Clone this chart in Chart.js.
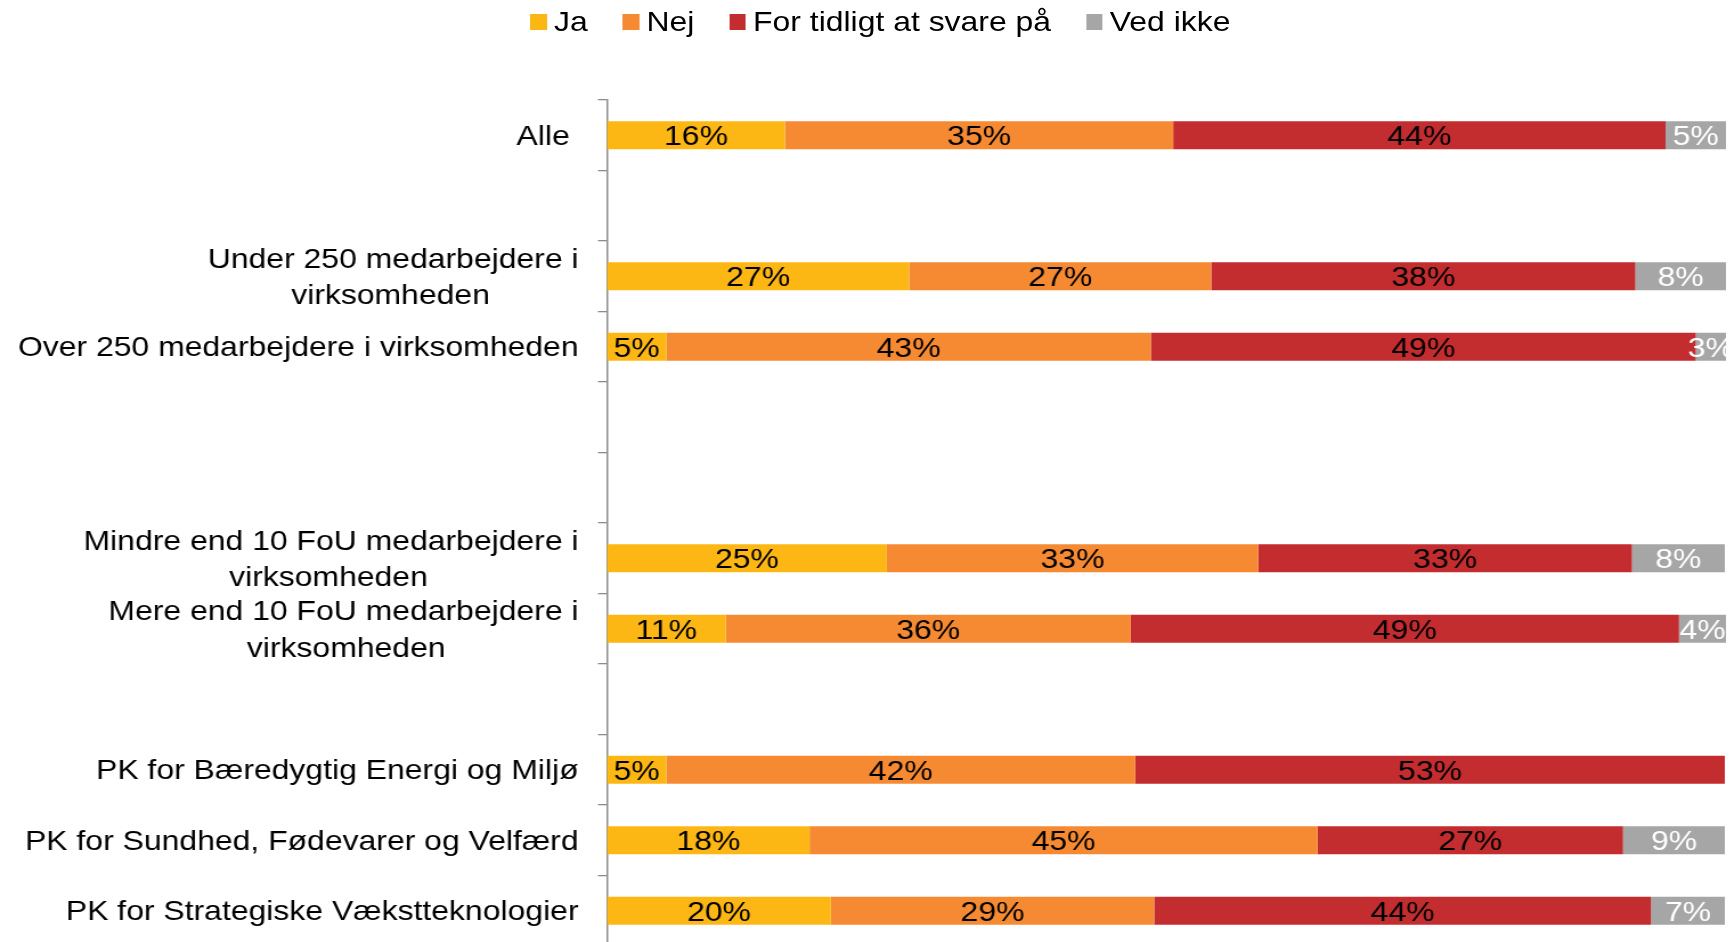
<!DOCTYPE html>
<html>
<head>
<meta charset="utf-8">
<script src="https://cdn.jsdelivr.net/npm/chart.js@4"></script>
<style>
  html, body { margin: 0; padding: 0; overflow: hidden; background: #fff; }
  /* chart is laid out narrower, then widened to fill the page */
  #stretch { position: relative; width: 1522px; height: 946px; transform: scaleX(1.14); transform-origin: 0 0; }
  #surveyChart { position: absolute; left: 0; top: 0; }
  #legend { position: absolute; left: 465px; top: 1px; height: 42px; display: flex; align-items: center;
            font: 28px "Liberation Sans", Arial, sans-serif; color: #000; white-space: nowrap; }
  #legend .item { display: flex; align-items: center; margin-right: 30.5px; }
  #legend .box { width: 14.6px; height: 16.7px; margin-right: 6.4px; }
</style>
</head>
<body>
<div id="stretch">
  <canvas id="surveyChart" width="1522" height="946"></canvas>
  <div id="legend"></div>
</div>

<script>
// empty strings are spacer rows between the groups
var categories = [
  'Alle ',
  '',
  ['Under 250 medarbejdere i', 'virksomheden'],
  'Over 250 medarbejdere i virksomheden',
  '',
  '',
  ['Mindre end 10 FoU medarbejdere i', 'virksomheden'],
  ['Mere end 10 FoU medarbejdere i', 'virksomheden'],
  '',
  'PK for Bæredygtig Energi og Miljø',
  'PK for Sundhed, Fødevarer og Velfærd',
  'PK for Strategiske Vækstteknologier'
];

var seriesNames = ['Ja', 'Nej', 'For tidligt at svare på', 'Ved ikke'];

// percentages
var ja      = [15.9, null, 27.0,  5.3, null, null, 25.0, 10.6, null,  5.3, 18.1, 20.0];
var nej     = [34.7, null, 27.0, 43.3, null, null, 33.2, 36.2, null, 41.9, 45.4, 28.9];
var tidligt = [44.0, null, 37.9, 48.7, null, null, 33.4, 49.0, null, 52.7, 27.3, 44.4];
var vedIkke = [ 5.4, null,  8.1,  2.7, null, null,  8.3,  4.2, null,  0,    9.1,  6.6];

var FONT = '"Liberation Sans", Arial, sans-serif';

// pad the shorter lines of a multi-line label so the lines sit centred on each other
var measureCtx = document.createElement('canvas').getContext('2d');
measureCtx.font = '28px ' + FONT;
function centerLines(label) {
  if (!Array.isArray(label)) return label;
  var widths = label.map(function (l) { return measureCtx.measureText(l).width; });
  var widest = Math.max.apply(null, widths);
  var space = measureCtx.measureText(' ').width;
  return label.map(function (l, i) {
    var n = Math.round((widest - widths[i]) / 2 / space);
    return l + ' '.repeat(n);
  });
}

// percentage text in the middle of each segment
var barLabels = {
  id: 'barLabels',
  afterDatasetsDraw: function (chart) {
    var ctx = chart.ctx;
    ctx.save();
    ctx.font = '28px ' + FONT;
    ctx.textAlign = 'center';
    ctx.textBaseline = 'middle';
    chart.data.datasets.forEach(function (ds, i) {
      var meta = chart.getDatasetMeta(i);
      meta.data.forEach(function (bar, j) {
        var v = ds.data[j];
        if (!v) return;
        var c = bar.getCenterPoint();
        ctx.fillStyle = ds.labelColor;
        ctx.fillText(Math.round(v) + '%', c.x, c.y + 2.5);
      });
    });
    ctx.restore();
  }
};

var chart = new Chart(document.getElementById('surveyChart'), {
  type: 'bar',
  data: {
    labels: categories,
    datasets: [
      { label: seriesNames[0], data: ja,      backgroundColor: '#FDB714', labelColor: '#000' },
      { label: seriesNames[1], data: nej,     backgroundColor: '#F68A33', labelColor: '#000' },
      { label: seriesNames[2], data: tidligt, backgroundColor: '#C32D2F', labelColor: '#000' },
      { label: seriesNames[3], data: vedIkke, backgroundColor: '#A6A6A6', labelColor: '#fff' }
    ]
  },
  options: {
    indexAxis: 'y',
    responsive: false,
    animation: false,
    layout: { padding: { top: 100, right: 8, bottom: 0, left: 0 } },
    datasets: { bar: { categoryPercentage: 1, barPercentage: 0.4 } },
    plugins: {
      legend: { display: false },
      tooltip: { enabled: false }
    },
    scales: {
      x: { stacked: true, min: 0, max: 100, display: false },
      y: {
        stacked: true,
        afterFit: function (scale) {
          scale.width = 532.5;
          // let the axis run to the bottom edge
          scale.paddingTop = 0;
          scale.paddingBottom = 0;
        },
        grid: { offset: true, drawOnChartArea: false, drawTicks: true, tickLength: 8, color: '#8c8c8c', lineWidth: 1.3 },
        border: { display: true, color: '#8c8c8c', width: 1.5 },
        ticks: {
          autoSkip: false,
          padding: 17,
          labelOffset: 2,
          color: '#000',
          font: { family: FONT, size: 28, lineHeight: 1.3 },
          callback: function (value) { return centerLines(this.getLabelForValue(value)); }
        }
      }
    }
  },
  plugins: [barLabels]
});

// legend built from the datasets
var legend = document.getElementById('legend');
chart.data.datasets.forEach(function (ds) {
  var item = document.createElement('div');
  item.className = 'item';
  var box = document.createElement('span');
  box.className = 'box';
  box.style.background = ds.backgroundColor;
  var txt = document.createElement('span');
  txt.textContent = ds.label;
  item.appendChild(box);
  item.appendChild(txt);
  legend.appendChild(item);
});
</script>
</body>
</html>
